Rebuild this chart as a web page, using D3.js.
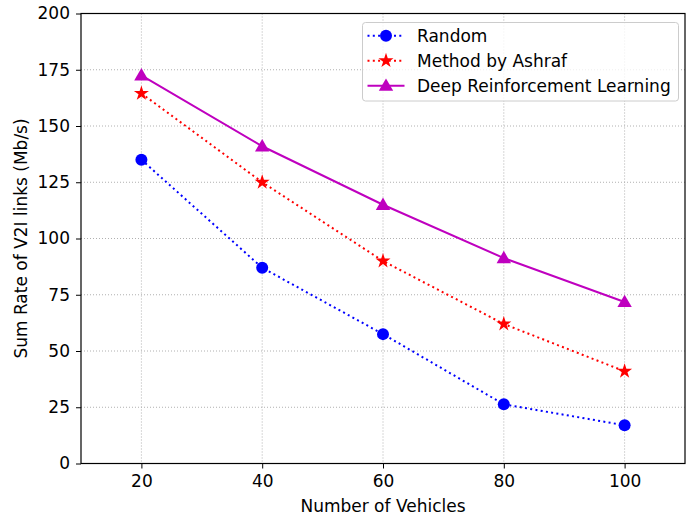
<!DOCTYPE html>
<html><head><meta charset="utf-8">
<script src="https://cdn.jsdelivr.net/npm/d3@7"></script>
<style>body{margin:0;background:#fff}svg{display:block}text{font-family:"DejaVu Sans",sans-serif}</style>
</head><body><svg id="c" width="695" height="519"></svg>
<script>
const vehicles = [20, 40, 60, 80, 100];
const randomVals = [135, 87, 57.5, 26.3, 17];
const ashrafVals = [164.5, 125, 90, 62, 41];
const drlVals = [172.5, 141, 115, 91.3, 71.8];
const xTicks = [20, 40, 60, 80, 100];
const yTicks = [0, 25, 50, 75, 100, 125, 150, 175, 200];
const seriesNames = ["Random", "Method by Ashraf", "Deep Reinforcement Learning"];

const svg = d3.select("#c");
const L = 81, R = 685, T = 13.5, B = 463.5;
const FS = 17;
const x = d3.scaleLinear().domain([10, 110]).range([L, R]);
const y = d3.scaleLinear().domain([0, 200]).range([B, T]);

// grid
const g = svg.append("g");
g.selectAll(".gx").data(xTicks).enter().append("line")
  .attr("x1", d => x(d)).attr("x2", d => x(d)).attr("y1", T).attr("y2", B)
  .attr("stroke", "#b0b0b0").attr("stroke-width", 1).attr("stroke-dasharray", "1,2");
g.selectAll(".gy").data(yTicks).enter().append("line")
  .attr("x1", L).attr("x2", R).attr("y1", d => y(d)).attr("y2", d => y(d))
  .attr("stroke", "#b0b0b0").attr("stroke-width", 1).attr("stroke-dasharray", "1,2");

// axes
const xa = svg.append("g").attr("transform", `translate(0,${B})`)
  .call(d3.axisBottom(x).tickValues(xTicks).tickSize(5).tickPadding(6).tickSizeOuter(0));
const ya = svg.append("g").attr("transform", `translate(${L},0)`)
  .call(d3.axisLeft(y).tickValues(yTicks).tickSize(5).tickPadding(6).tickSizeOuter(0));
[xa, ya].forEach(a => {
  a.select(".domain").remove();
  a.selectAll("text").attr("font-size", FS).attr("fill", "#000").style("font-family", "DejaVu Sans");
  a.selectAll("line").attr("stroke", "#000");
});
svg.append("rect").attr("x", L).attr("y", T).attr("width", R - L).attr("height", B - T)
  .attr("fill", "none").attr("stroke", "#000").attr("stroke-width", 1.2);

// labels
svg.append("text").attr("x", (L + R) / 2).attr("y", 512).attr("text-anchor", "middle")
  .attr("font-size", FS).text("Number of Vehicles");
svg.append("text").attr("transform", `translate(27,${(T + B) / 2}) rotate(-90)`).attr("text-anchor", "middle")
  .attr("font-size", FS).text("Sum Rate of V2I links (Mb/s)");

const line = d3.line().x((d, i) => x(vehicles[i])).y(d => y(d));
const star = d3.symbol().type(d3.symbolStar).size(70);
const tri = d3.symbol().type(d3.symbolTriangle).size(90);

const series = [
  {name: seriesNames[0], vals: randomVals, color: "#0000ff", dash: "2,3.3", marker: "circle"},
  {name: seriesNames[1], vals: ashrafVals, color: "#ff0000", dash: "2,3.3", marker: "star"},
  {name: seriesNames[2], vals: drlVals, color: "#bf00bf", dash: null, marker: "tri"}
];

function drawMarker(sel, s, cx, cy) {
  if (s.marker === "circle") sel.append("circle").attr("cx", cx).attr("cy", cy).attr("r", 6).attr("fill", s.color);
  else if (s.marker === "star") sel.append("path").attr("d", star()).attr("transform", `translate(${cx},${cy})`).attr("fill", s.color);
  else sel.append("path").attr("d", tri()).attr("transform", `translate(${cx},${cy + 1})`).attr("fill", s.color);
}

series.forEach(s => {
  svg.append("path").datum(s.vals).attr("d", line).attr("fill", "none")
    .attr("stroke", s.color).attr("stroke-width", 2)
    .attr("stroke-dasharray", s.dash);
  const mg = svg.append("g");
  s.vals.forEach((v, i) => drawMarker(mg, s, x(vehicles[i]), y(v)));
});

// legend
const lg = svg.append("g");
lg.append("rect").attr("x", 362.5).attr("y", 22.5).attr("width", 316).attr("height", 78.5).attr("rx", 3)
  .attr("fill", "#fff").attr("fill-opacity", 0.8).attr("stroke", "#cccccc");
series.forEach((s, i) => {
  const yy = 35.7 + i * 25;
  lg.append("line").attr("x1", 367.5).attr("x2", 404.5).attr("y1", yy).attr("y2", yy)
    .attr("stroke", s.color).attr("stroke-width", 2).attr("stroke-dasharray", s.dash);
  drawMarker(lg, s, 386, yy);
  lg.append("text").attr("x", 417).attr("y", yy + 6.2).attr("font-size", FS).text(s.name);
});
</script></body></html>
